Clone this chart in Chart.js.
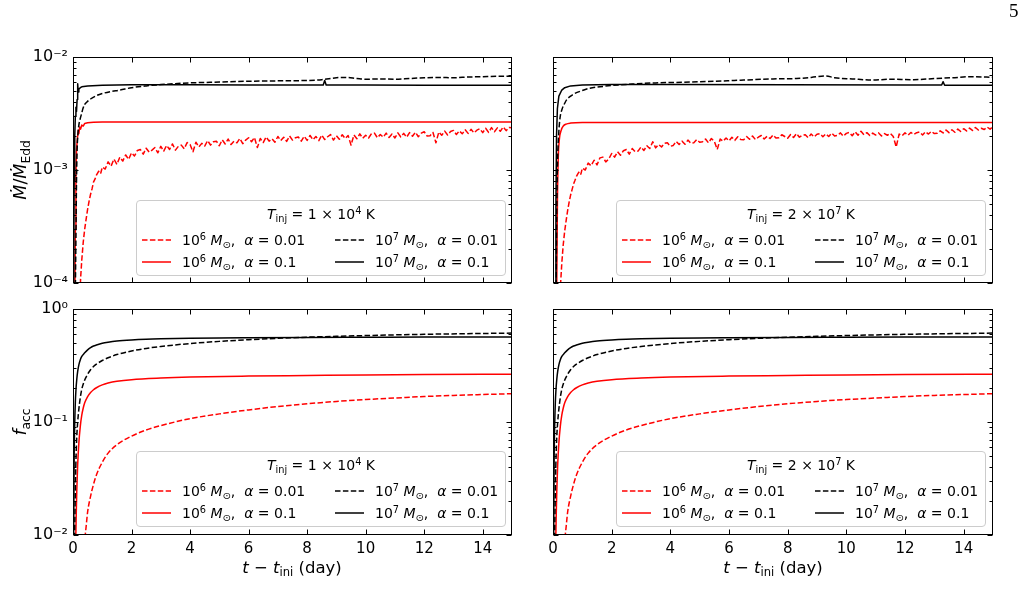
<!DOCTYPE html>
<html>
<head>
<meta charset="utf-8">
<title>Accretion rate and accreted fraction</title>
<script src="https://cdn.jsdelivr.net/npm/chart.js@4.4.1/dist/chart.umd.min.js"></script>
<style>
html,body{margin:0;padding:0;background:#fff;}
body{width:1025px;height:605px;position:relative;overflow:hidden;font-family:"DejaVu Sans",sans-serif;color:#000;}
canvas{position:absolute;left:0;top:0;}
.ylab{position:absolute;transform:translate(-50%,-50%) rotate(-90deg);font-size:17.5px;white-space:nowrap;line-height:20px;}
.xlab{position:absolute;transform:translate(-50%,-50%);font-size:16.5px;white-space:nowrap;line-height:20px;}
sub,sup{font-size:70%;line-height:0;position:relative;vertical-align:baseline;}
sup{top:-0.55em;} sub{top:0.3em;}
.leg{position:absolute;width:370px;height:76px;background:rgba(255,255,255,0.8);border:1px solid #cccccc;border-radius:4px;box-sizing:border-box;font-size:14px;}
.leg .t{position:absolute;left:0;right:0;text-align:center;top:13px;transform:translateY(-50%);line-height:20px;white-space:nowrap;}
.leg .e{position:absolute;line-height:20px;transform:translateY(-50%);white-space:nowrap;}
.leg svg{position:absolute;overflow:visible;}
.pg{position:absolute;left:1009px;top:0px;font-family:"Liberation Serif",serif;font-size:19px;}
</style>
</head>
<body>
<canvas id="cTL" width="1025" height="605"></canvas>
<canvas id="cTR" width="1025" height="605"></canvas>
<canvas id="cBL" width="1025" height="605"></canvas>
<canvas id="cBR" width="1025" height="605"></canvas>

<div class="pg">5</div>
<div class="ylab" style="left:20px;top:170px;"><i>Ṁ</i>/<i>Ṁ</i><sub>Edd</sub></div>
<div class="ylab" style="left:20px;top:422px;"><i>f</i><sub>acc</sub></div>
<div class="xlab" style="left:292px;top:568px;"><i>t</i> − <i>t</i><sub>ini</sub> (day)</div>
<div class="xlab" style="left:773px;top:568px;"><i>t</i> − <i>t</i><sub>ini</sub> (day)</div>
<div id="legends"></div>

<script>
// ---------------- tick values / labels ----------------
const xTickValues = [0, 2, 4, 6, 8, 10, 12, 14];
const xTickLabels = ['0', '2', '4', '6', '8', '10', '12', '14'];
const mdotTickValues = [1e-4, 1e-3, 1e-2];
const mdotTickLabels = ['10⁻⁴', '10⁻³', '10⁻²'];
const faccTickValues = [1e-2, 1e-1, 1];
const faccTickLabels = ['10⁻²', '10⁻¹', '10⁰'];
const minorMultipliers = [2, 3, 4, 5, 6, 7, 8, 9];

// ---------------- legend texts ----------------
const legendTitles = ['1 × 10<sup>4</sup> K', '2 × 10<sup>7</sup> K'];
const seriesLabels = [
  '10<sup>6</sup> <i>M</i><sub>⊙</sub>, &nbsp;<i>α</i> = 0.01',
  '10<sup>6</sup> <i>M</i><sub>⊙</sub>, &nbsp;<i>α</i> = 0.1',
  '10<sup>7</sup> <i>M</i><sub>⊙</sub>, &nbsp;<i>α</i> = 0.01',
  '10<sup>7</sup> <i>M</i><sub>⊙</sub>, &nbsp;<i>α</i> = 0.1'
];

// ---------------- top panels: Mdot/MEdd (values in units of 1e-3) ----------------
// 1e6 Msun, alpha = 0.01 (noisy), shared time grid
const tNoisy = [0.22,0.26,0.3,0.35,0.4,0.45,0.5,0.55,0.6,0.65,0.7,0.75,0.8,0.85,0.9,0.95,1.0,
  1.1,1.2,1.3,1.4,1.5,1.6,1.7,1.8,1.9,2.0,
  2.1,2.2,2.3,2.4,2.5,2.6,2.7,2.8,2.9,3.0,
  3.1,3.2,3.3,3.4,3.5,3.6,3.7,3.8,3.9,4.0,
  4.1,4.2,4.3,4.4,4.5,4.6,4.7,4.8,4.9,5.0,
  5.1,5.2,5.3,5.4,5.5,5.6,5.7,5.8,5.9,6.0,
  6.1,6.2,6.3,6.4,6.5,6.6,6.7,6.8,6.9,7.0,
  7.1,7.2,7.3,7.4,7.5,7.6,7.7,7.8,7.9,8.0,
  8.1,8.2,8.3,8.4,8.5,8.6,8.7,8.8,8.9,9.0,
  9.1,9.2,9.3,9.4,9.5,9.6,9.7,9.8,9.9,10.0,
  10.1,10.2,10.3,10.4,10.5,10.6,10.7,10.8,10.9,11.0,
  11.1,11.2,11.3,11.4,11.5,11.6,11.7,11.8,11.9,12.0,
  12.1,12.2,12.3,12.4,12.5,12.6,12.7,12.8,12.9,13.0,
  13.1,13.2,13.3,13.4,13.5,13.6,13.7,13.8,13.9,14.0,
  14.1,14.2,14.3,14.4,14.5,14.6,14.7,14.8,14.9,15.0];
const mdotRedDashedL = [0.06,0.11,0.16,0.23,0.30,0.37,0.45,0.53,0.61,0.68,0.78,0.83,0.90,0.95,0.99,0.94,1.06,
  1.02,1.18,1.08,1.25,1.12,1.30,1.20,1.36,1.24,1.42,
  1.33,1.49,1.52,1.38,1.56,1.44,1.50,1.58,1.42,1.62,
  1.47,1.65,1.52,1.70,1.50,1.62,1.66,1.54,1.75,1.68,
  1.45,1.76,1.60,1.72,1.63,1.82,1.66,1.78,1.80,1.64,
  1.85,1.70,1.88,1.68,1.80,1.74,1.90,1.71,1.84,1.93,
  1.78,1.94,1.58,1.90,1.75,1.96,1.80,1.89,1.76,1.98,
  1.82,1.95,1.79,2.00,1.84,1.93,1.96,1.80,1.99,1.83,
  2.02,1.85,1.98,1.82,2.04,1.86,1.97,2.06,1.84,2.01,
  1.87,2.05,1.90,2.02,1.66,2.04,1.89,2.09,1.91,2.03,
  1.92,2.10,2.12,1.93,2.06,1.95,2.12,1.94,2.08,1.92,
  2.13,1.96,2.11,1.95,2.14,1.99,2.16,1.97,2.12,2.18,
  2.00,2.01,2.15,1.74,2.17,2.03,2.21,2.04,2.19,2.24,
  2.06,2.22,2.09,2.27,2.11,2.29,2.13,2.25,2.32,2.14,
  2.34,2.15,2.37,2.18,2.36,2.20,2.40,2.23,2.38,2.36];
const mdotRedDashedR = [0.05,0.10,0.15,0.22,0.29,0.36,0.44,0.52,0.60,0.67,0.75,0.81,0.88,0.93,0.97,0.92,1.04,
  1.00,1.15,1.09,1.22,1.11,1.28,1.30,1.18,1.25,1.40,
  1.30,1.45,1.35,1.48,1.52,1.38,1.55,1.45,1.47,1.60,
  1.49,1.64,1.55,1.78,1.57,1.68,1.60,1.72,1.74,1.62,
  1.65,1.79,1.68,1.80,1.69,1.84,1.72,1.74,1.86,1.76,
  1.78,1.88,1.74,1.90,1.79,1.52,1.88,1.80,1.92,1.81,
  1.95,1.83,1.97,1.86,1.85,1.98,1.87,2.00,1.86,1.95,
  2.02,1.88,1.99,1.90,2.04,1.92,1.93,2.05,1.98,1.91,
  2.06,1.94,2.10,1.95,2.03,2.05,1.93,2.08,1.96,2.07,
  2.10,1.97,2.09,1.98,2.12,2.00,2.02,2.13,1.99,2.11,
  2.15,2.01,2.18,2.03,2.20,2.05,2.14,2.02,2.12,2.04,
  2.13,2.00,2.10,2.03,2.11,1.98,1.60,2.08,2.01,2.13,
  2.03,2.15,2.06,2.14,2.17,2.04,2.18,2.08,2.20,2.10,
  2.11,2.22,2.13,2.26,2.14,2.27,2.16,2.30,2.19,2.32,
  2.22,2.35,2.24,2.38,2.26,2.34,2.28,2.40,2.30,2.42];

// 1e6 Msun, alpha = 0.1
const tMdotRedSolidL = [0.06,0.08,0.1,0.12,0.15,0.18,0.2,0.23,0.26,0.3,0.35,0.4,0.5,0.7,1,3,6,9,12,15];
const mdotRedSolidL  = [0.05,0.3,0.9,1.5,1.9,2.25,2.1,2.4,2.3,2.5,2.45,2.58,2.62,2.65,2.66,2.66,2.66,2.66,2.66,2.66];
const tMdotRedSolidR = [0.12,0.15,0.18,0.22,0.28,0.35,0.45,0.6,1,3,6,9,12,15];
const mdotRedSolidR  = [0.05,0.5,1.3,1.9,2.25,2.45,2.55,2.6,2.63,2.63,2.63,2.63,2.63,2.63];

// 1e7 Msun, alpha = 0.01
const tMdotBlackDashedL = [0.07,0.1,0.12,0.14,0.17,0.2,0.24,0.3,0.34,0.4,0.5,0.6,0.8,1.0,1.3,1.6,2.0,2.5,3,4,5,6,7,8,8.5,9.0,9.3,9.7,10,10.5,11,11.5,12,12.5,13,13.5,14,14.5,15];
const mdotBlackDashedL  = [0.05,0.25,0.8,1.5,2.1,2.5,2.8,3.2,3.5,3.8,4.05,4.25,4.55,4.75,4.95,5.1,5.35,5.55,5.7,5.9,6.0,6.1,6.15,6.2,6.3,6.55,6.6,6.45,6.35,6.4,6.35,6.45,6.55,6.6,6.55,6.65,6.7,6.75,6.75];
const tMdotBlackDashedR = [0.1,0.13,0.16,0.2,0.24,0.3,0.4,0.47,0.6,0.7,1.0,1.26,1.6,2,2.7,3.5,4.7,5.5,6.5,7.5,8.3,8.8,9.3,9.6,10.2,10.9,11.5,12.3,13,13.6,14.3,15];
const mdotBlackDashedR  = [0.05,0.5,1.3,2.2,2.9,3.4,3.9,4.2,4.5,4.7,5.05,5.3,5.45,5.6,5.76,5.9,6.0,6.1,6.25,6.4,6.45,6.6,6.8,6.55,6.4,6.25,6.35,6.3,6.45,6.55,6.7,6.6];

// 1e7 Msun, alpha = 0.1
const tMdotBlackSolidL = [0.02,0.04,0.06,0.08,0.1,0.12,0.14,0.16,0.18,0.2,0.25,0.3,0.5,1,2,4,6,8,8.55,8.6,8.65,10,12,14,15];
const mdotBlackSolidL  = [0.05,0.8,2.0,3.0,3.6,3.3,4.2,5.8,4.9,5.2,5.35,5.45,5.55,5.62,5.68,5.68,5.66,5.65,5.65,6.2,5.65,5.64,5.63,5.62,5.62];
const tMdotBlackSolidR = [0.08,0.1,0.12,0.15,0.2,0.3,0.4,0.6,1,2,4,8,12,13.25,13.3,13.35,15];
const mdotBlackSolidR  = [0.05,0.5,2.0,3.5,4.5,5.1,5.35,5.55,5.65,5.7,5.7,5.68,5.65,5.65,6.05,5.62,5.62];

// ---------------- bottom panels: f_acc ----------------
const tFaccRedDashed = [0.38,0.45,0.5,0.6,0.7,0.8,1.0,1.2,1.5,2,2.5,3,4,5,6,7,8,9,10,11,12,13,14,15];
const faccRedDashed  = [0.008,0.012,0.016,0.022,0.028,0.034,0.044,0.053,0.063,0.075,0.085,0.093,0.107,0.118,0.128,0.137,0.145,0.152,0.158,0.163,0.168,0.172,0.175,0.178];
const tFaccRedSolid = [0.09,0.11,0.13,0.16,0.2,0.25,0.3,0.35,0.4,0.5,0.6,0.7,0.8,1.0,1.2,1.5,2,3,4,6,8,10,12,15];
const faccRedSolid  = [0.008,0.015,0.025,0.042,0.065,0.092,0.115,0.133,0.148,0.168,0.182,0.193,0.201,0.213,0.221,0.229,0.237,0.245,0.25,0.255,0.258,0.261,0.263,0.265];
const tFaccBlackDashed = [0.05,0.08,0.1,0.13,0.16,0.2,0.25,0.3,0.4,0.5,0.6,0.7,0.8,1.0,1.2,1.5,2,2.5,3,4,5,6,7,8,9,10,12,15];
const faccBlackDashed  = [0.008,0.025,0.045,0.075,0.1,0.13,0.165,0.195,0.235,0.265,0.29,0.31,0.325,0.35,0.37,0.395,0.425,0.448,0.466,0.495,0.517,0.535,0.55,0.563,0.573,0.582,0.597,0.612];
const tFaccBlackSolid = [0.02,0.04,0.06,0.08,0.1,0.13,0.16,0.2,0.25,0.3,0.4,0.5,0.6,0.7,0.8,1.0,1.2,1.5,2,2.5,3,4,5,6,8,10,12,15];
const faccBlackSolid  = [0.008,0.05,0.10,0.15,0.19,0.24,0.28,0.32,0.355,0.38,0.41,0.435,0.455,0.47,0.48,0.497,0.508,0.52,0.532,0.54,0.545,0.551,0.555,0.557,0.56,0.562,0.564,0.565];

// ---------------- helpers ----------------
const MDOT_UNIT = 1e-3;
const DASH = [5.5, 2.4];
Chart.defaults.font.family = '"DejaVu Sans", sans-serif';
Chart.defaults.color = '#000';

function pts(t, v, unit) { return t.map((x, i) => ({ x: x, y: v[i] * unit })); }
function series(t, v, unit, color, dashed, smooth) {
  return {
    data: pts(t, v, unit), borderColor: color, backgroundColor: color,
    borderWidth: 1.5, borderDash: dashed ? DASH : [], pointRadius: 0, pointHoverRadius: 0,
    fill: false, tension: 0, cubicInterpolationMode: smooth ? 'monotone' : 'default',
    borderJoinStyle: 'round'
  };
}

const frameTicks = {
  id: 'frameTicks',
  afterDatasetsDraw(chart, args, opts) {
    const { ctx, chartArea: a } = chart;
    const xs = chart.scales.x, ys = chart.scales.y;
    ctx.save();
    ctx.strokeStyle = '#000';
    ctx.lineWidth = 1;
    ctx.beginPath();
    const L = Math.round(a.left) + 0.5, R = Math.round(a.right) - 0.5;
    const T = Math.round(a.top) + 0.5, B = Math.round(a.bottom) - 0.5;
    const maj = 5, mnr = 3;
    xTickValues.forEach(v => {
      const px = Math.round(xs.getPixelForValue(v)) + 0.5;
      ctx.moveTo(px, B); ctx.lineTo(px, B - maj);
      ctx.moveTo(px, T); ctx.lineTo(px, T + maj);
    });
    opts.major.forEach(v => {
      const py = Math.round(ys.getPixelForValue(v)) + 0.5;
      ctx.moveTo(L, py); ctx.lineTo(L + maj, py);
      ctx.moveTo(R, py); ctx.lineTo(R - maj, py);
    });
    opts.major.slice(0, -1).forEach(d => {
      minorMultipliers.forEach(m => {
        const py = Math.round(ys.getPixelForValue(d * m)) + 0.5;
        ctx.moveTo(L, py); ctx.lineTo(L + mnr, py);
        ctx.moveTo(R, py); ctx.lineTo(R - mnr, py);
      });
    });
    ctx.stroke();
    ctx.strokeRect(L, T, R - L, B - T);
    ctx.restore();
  }
};

function labelFor(values, labels, v) {
  const i = values.findIndex(t => Math.abs(Math.log10(t) - Math.log10(v)) < 1e-6);
  return i >= 0 ? labels[i] : '';
}

function makeChart(id, cfg) {
  return new Chart(document.getElementById(id), {
    type: 'line',
    data: { datasets: cfg.datasets },
    options: {
      responsive: false, animation: false, devicePixelRatio: 1,
      events: [],
      layout: { padding: cfg.padding },
      plugins: { legend: { display: false }, tooltip: { enabled: false },
                 frameTicks: { major: cfg.yTicks } },
      scales: {
        x: {
          type: 'linear', min: 0, max: 15, display: cfg.showX,
          afterBuildTicks: s => { s.ticks = xTickValues.map(v => ({ value: v })); },
          afterFit: s => { s.height = cfg.showX ? 40 : 0; },
          grid: { display: false, drawTicks: false }, border: { display: false },
          ticks: { autoSkip: false, maxRotation: 0, padding: 5, color: '#000', font: { size: 15 },
                   callback: v => xTickLabels[xTickValues.indexOf(v)] }
        },
        y: {
          type: 'logarithmic', min: cfg.yTicks[0], max: cfg.yTicks[cfg.yTicks.length - 1], display: cfg.showY,
          afterBuildTicks: s => { s.ticks = cfg.yTicks.map(v => ({ value: v })); },
          afterFit: s => { s.width = cfg.showY ? 73 : 0; },
          grid: { display: false, drawTicks: false }, border: { display: false },
          ticks: { autoSkip: false, padding: 5, color: '#000', font: { size: 16 },
                   callback: v => labelFor(cfg.yTicks, cfg.yLabels, v) }
        }
      }
    },
    plugins: [frameTicks]
  });
}

// ---------------- panels ----------------
makeChart('cTL', {
  padding: { left: 0, top: 57, right: 513, bottom: 322 }, showX: false, showY: true,
  yTicks: mdotTickValues, yLabels: mdotTickLabels,
  datasets: [
    series(tMdotBlackSolidL, mdotBlackSolidL, MDOT_UNIT, '#000000', false, false),
    series(tMdotBlackDashedL, mdotBlackDashedL, MDOT_UNIT, '#000000', true, true),
    series(tMdotRedSolidL, mdotRedSolidL, MDOT_UNIT, '#ff0000', false, false),
    series(tNoisy, mdotRedDashedL, MDOT_UNIT, '#ff0000', true, false)
  ]
});
makeChart('cTR', {
  padding: { left: 553, top: 57, right: 32, bottom: 322 }, showX: false, showY: false,
  yTicks: mdotTickValues, yLabels: mdotTickLabels,
  datasets: [
    series(tMdotBlackSolidR, mdotBlackSolidR, MDOT_UNIT, '#000000', false, false),
    series(tMdotBlackDashedR, mdotBlackDashedR, MDOT_UNIT, '#000000', true, true),
    series(tMdotRedSolidR, mdotRedSolidR, MDOT_UNIT, '#ff0000', false, true),
    series(tNoisy, mdotRedDashedR, MDOT_UNIT, '#ff0000', true, false)
  ]
});
makeChart('cBL', {
  padding: { left: 0, top: 309, right: 513, bottom: 30 }, showX: true, showY: true,
  yTicks: faccTickValues, yLabels: faccTickLabels,
  datasets: [
    series(tFaccBlackSolid, faccBlackSolid, 1, '#000000', false, true),
    series(tFaccBlackDashed, faccBlackDashed, 1, '#000000', true, true),
    series(tFaccRedSolid, faccRedSolid, 1, '#ff0000', false, true),
    series(tFaccRedDashed, faccRedDashed, 1, '#ff0000', true, true)
  ]
});
makeChart('cBR', {
  padding: { left: 553, top: 309, right: 32, bottom: 30 }, showX: true, showY: false,
  yTicks: faccTickValues, yLabels: faccTickLabels,
  datasets: [
    series(tFaccBlackSolid, faccBlackSolid, 1, '#000000', false, true),
    series(tFaccBlackDashed, faccBlackDashed, 1, '#000000', true, true),
    series(tFaccRedSolid, faccRedSolid, 1, '#ff0000', false, true),
    series(tFaccRedDashed, faccRedDashed, 1, '#ff0000', true, true)
  ]
});

// ---------------- legends ----------------
const legendBoxes = [
  { left: 136, top: 200, title: 0 }, { left: 616, top: 200, title: 1 },
  { left: 136, top: 451, title: 0 }, { left: 616, top: 451, title: 1 }
];
const legendEntries = [
  { label: 0, color: '#ff0000', dashed: true,  col: 0, row: 0 },
  { label: 1, color: '#ff0000', dashed: false, col: 0, row: 1 },
  { label: 2, color: '#000000', dashed: true,  col: 1, row: 0 },
  { label: 3, color: '#000000', dashed: false, col: 1, row: 1 }
];
const colLine = [5, 198], colText = [45, 238], rowY = [39, 61];
const holder = document.getElementById('legends');
legendBoxes.forEach(b => {
  const box = document.createElement('div');
  box.className = 'leg';
  box.style.left = b.left + 'px'; box.style.top = b.top + 'px';
  let html = '<div class="t"><i>T</i><sub>inj</sub> = ' + legendTitles[b.title] + '</div>';
  legendEntries.forEach(e => {
    const y = rowY[e.row];
    html += '<svg width="29" height="4" style="left:' + colLine[e.col] + 'px;top:' + (y - 2) + 'px">' +
      '<line x1="0" y1="2" x2="29" y2="2" stroke="' + e.color + '" stroke-width="1.5"' +
      (e.dashed ? ' stroke-dasharray="' + DASH.join(' ') + '"' : '') + '/></svg>';
    html += '<div class="e" style="left:' + colText[e.col] + 'px;top:' + y + 'px">' + seriesLabels[e.label] + '</div>';
  });
  box.innerHTML = html;
  holder.appendChild(box);
});
</script>
</body>
</html>
